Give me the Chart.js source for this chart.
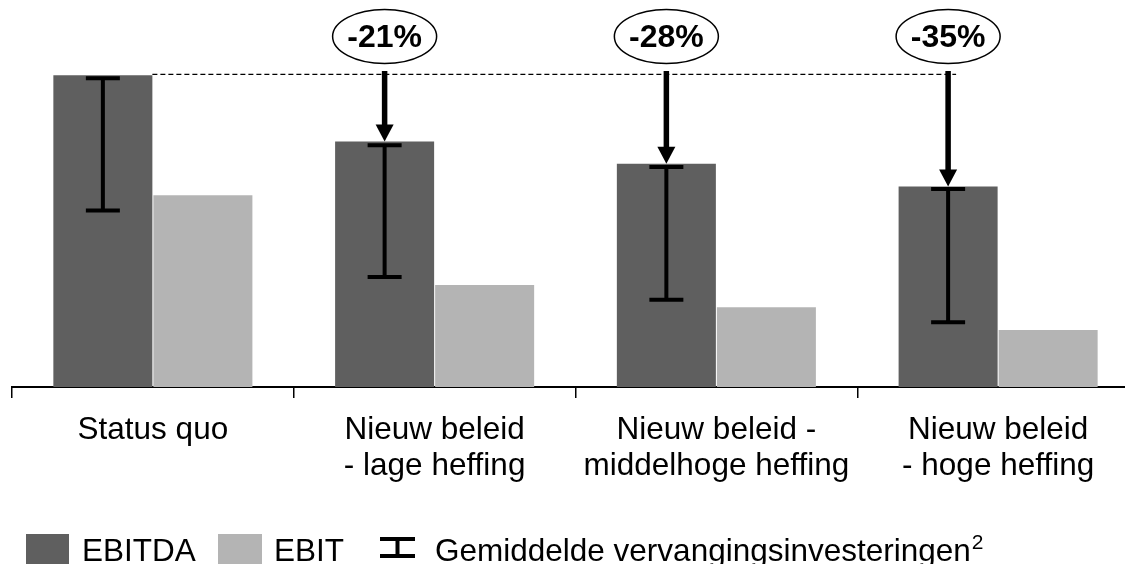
<!DOCTYPE html>
<html>
<head>
<meta charset="utf-8">
<script src="https://cdn.jsdelivr.net/npm/chart.js@4.4.0/dist/chart.umd.min.js"></script>
<style>
  html, body { margin: 0; padding: 0; background: #fff; overflow: hidden; }
  #wrap { width: 1139px; height: 564px; }
</style>
</head>
<body>
<div id="wrap"><canvas id="chart"></canvas></div>
<script>
var categories = [
    'Status quo',
    ['Nieuw beleid', '- lage heffing'],
    ['Nieuw beleid -', 'middelhoge heffing'],
    ['Nieuw beleid', '- hoge heffing']
];
var ebitda = [100, 78.8, 71.6, 64.3];
var ebit = [61.5, 32.7, 25.6, 18.3];
var investHigh = [99.1, 77.6, 70.6, 63.5];
var investLow = [56.6, 35.3, 28.0, 20.8];
var changeLabels = ['', '-21%', '-28%', '-35%'];

var FONT = "'Liberation Sans', Arial, sans-serif";

// error bars, dashed reference line, arrows and the % bubbles
var overlay = {
    id: 'overlay',
    afterDatasetsDraw: function(chart) {
        var c = chart.ctx;
        var y = chart.scales.y;
        var bars = chart.getDatasetMeta(0).data;

        c.save();
        c.strokeStyle = '#000';
        c.fillStyle = '#000';

        // vervangingsinvesteringen
        c.lineWidth = 4;
        bars.forEach(function(b, i) {
            var yt = y.getPixelForValue(investHigh[i]);
            var yb = y.getPixelForValue(investLow[i]);
            c.beginPath();
            c.moveTo(b.x, yt); c.lineTo(b.x, yb);
            c.moveTo(b.x - 17, yt); c.lineTo(b.x + 17, yt);
            c.moveTo(b.x - 17, yb); c.lineTo(b.x + 17, yb);
            c.stroke();
        });

        // dashed line at status quo level
        var yRef = y.getPixelForValue(ebitda[0]) - 1;
        var last = bars[bars.length - 1];
        c.lineWidth = 1.3;
        c.setLineDash([5, 3]);
        c.beginPath();
        c.moveTo(bars[0].x + bars[0].width / 2, yRef);
        c.lineTo(last.x + 8, yRef);
        c.stroke();
        c.setLineDash([]);

        // arrows + labels
        for (var i = 1; i < bars.length; i++) {
            var x = bars[i].x;
            var tip = y.getPixelForValue(ebitda[i]);
            c.fillRect(x - 2.75, 71, 5.5, tip - 17 - 71 + 1);
            c.beginPath();
            c.moveTo(x - 9, tip - 17);
            c.lineTo(x + 9, tip - 17);
            c.lineTo(x, tip);
            c.closePath();
            c.fill();

            c.lineWidth = 1.5;
            c.beginPath();
            c.ellipse(x, 36.5, 52, 27, 0, 0, Math.PI * 2);
            c.stroke();
            c.font = 'bold 32px ' + FONT;
            c.textAlign = 'center';
            c.textBaseline = 'middle';
            c.fillText(changeLabels[i], x, 38);
        }
        c.restore();
    }
};

// legend along the bottom edge
var bottomLegend = {
    id: 'bottomLegend',
    afterDraw: function(chart) {
        var c = chart.ctx;
        var ds = chart.data.datasets;
        c.save();
        c.font = '31.5px ' + FONT;
        c.textBaseline = 'alphabetic';
        c.textAlign = 'left';

        c.fillStyle = ds[0].backgroundColor;
        c.fillRect(26, 534, 43, 43);
        c.fillStyle = '#000';
        c.fillText(ds[0].label, 82, 561);

        c.fillStyle = ds[1].backgroundColor;
        c.fillRect(218, 534, 44, 43);
        c.fillStyle = '#000';
        c.fillText(ds[1].label, 274, 561);

        // error bar symbol
        c.strokeStyle = '#000';
        c.lineWidth = 4;
        c.beginPath();
        c.moveTo(380, 539); c.lineTo(415, 539);
        c.moveTo(397.5, 539); c.lineTo(397.5, 556);
        c.moveTo(380, 556); c.lineTo(415, 556);
        c.stroke();

        var txt = 'Gemiddelde vervangingsinvesteringen';
        c.fillText(txt, 435, 561);
        var w = c.measureText(txt).width;
        c.font = '21px ' + FONT;
        c.fillText('2', 435 + w + 1, 549);
        c.restore();
    }
};

var ctx = document.getElementById('chart').getContext('2d');
var chart = new Chart(ctx, {
    type: 'bar',
    data: {
        labels: categories,
        datasets: [{
            label: 'EBITDA',
            data: ebitda,
            backgroundColor: '#5f5f5f',
            barPercentage: 0.99,
            categoryPercentage: 0.71
        }, {
            label: 'EBIT',
            data: ebit,
            backgroundColor: '#b4b4b4',
            barPercentage: 0.99,
            categoryPercentage: 0.71
        }]
    },
    options: {
        responsive: true,
        maintainAspectRatio: false,
        animation: false,
        layout: {
            padding: { top: 13, left: 12, right: 0, bottom: 0 }
        },
        scales: {
            x: {
                afterFit: function(s) { s.height = 177; },
                border: { display: true, color: '#000', width: 2 },
                grid: {
                    display: true,
                    drawOnChartArea: false,
                    drawTicks: true,
                    tickLength: 11,
                    color: '#000',
                    lineWidth: 1.5
                },
                ticks: {
                    color: '#000',
                    padding: 14,
                    maxRotation: 0,
                    autoSkip: false,
                    font: { family: FONT, size: 31.5, lineHeight: 1.143 }
                }
            },
            y: {
                display: false,
                min: 0,
                max: 120
            }
        },
        plugins: {
            legend: { display: false },
            tooltip: { enabled: false }
        }
    },
    plugins: [overlay, bottomLegend]
});
</script>
</body>
</html>
